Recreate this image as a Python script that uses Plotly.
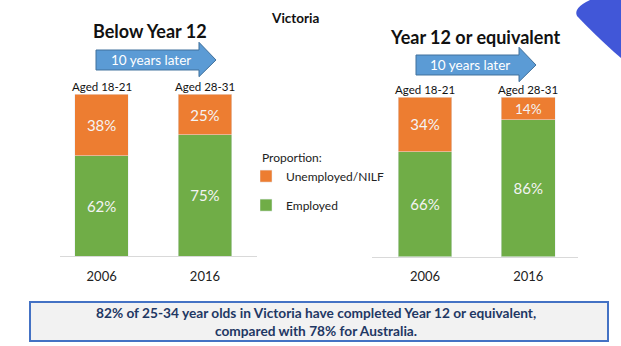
import plotly.graph_objects as go

W, H = 621, 346

years = ["2006", "2016"]
age_labels = ["Aged 18-21", "Aged 28-31"]
below_employed = [62, 75]
below_unemployed = [38, 25]
y12_employed = [66, 86]
y12_unemployed = [34, 14]

ORANGE = "#ED7D31"
GREEN = "#70AD47"
FONT = "Lato, 'Open Sans', sans-serif"


def px(x):
    return x / W


def py(y):
    return 1 - y / H


fig = go.Figure()

bar_text = dict(texttemplate="%{y}%", textposition="inside", insidetextanchor="middle",
                textfont=dict(color="#F4F4F4", size=15, family=FONT), width=0.52)

# Left panel
fig.add_trace(go.Bar(x=years, y=below_employed, name="Employed", marker_color=GREEN,
                     xaxis="x", yaxis="y", legendgroup="emp", legendrank=2, **bar_text))
fig.add_trace(go.Bar(x=years, y=below_unemployed, name="Unemployed/NILF", marker_color=ORANGE,
                     xaxis="x", yaxis="y", legendgroup="unemp", legendrank=1, **bar_text))
# Right panel
fig.add_trace(go.Bar(x=years, y=y12_employed, name="Employed", marker_color=GREEN,
                     xaxis="x2", yaxis="y2", showlegend=False, legendgroup="emp", **bar_text))
fig.add_trace(go.Bar(x=years, y=y12_unemployed, name="Unemployed/NILF", marker_color=ORANGE,
                     xaxis="x2", yaxis="y2", showlegend=False, legendgroup="unemp", **bar_text))

axis_common = dict(showgrid=False, zeroline=False, showline=True, linecolor="#D9D9D9",
                   linewidth=1, ticks="", ticklabelstandoff=8,
                   tickfont=dict(size=13, color="#222", family=FONT), fixedrange=True)
yaxis_common = dict(showgrid=False, zeroline=False, showline=False, showticklabels=False,
                    range=[0, 100], fixedrange=True)

fig.update_layout(
    width=W, height=H,
    margin=dict(l=0, r=0, t=0, b=0),
    paper_bgcolor="white", plot_bgcolor="white",
    barmode="stack",
    font=dict(family=FONT, color="#222"),
    xaxis=dict(domain=[px(60), px(257)], range=[-0.403, 1.504], anchor="y", **axis_common),
    yaxis=dict(domain=[py(256), py(94.3)], anchor="x", **yaxis_common),
    xaxis2=dict(domain=[px(372), px(578)], range=[-0.513, 1.481], anchor="y2", **axis_common),
    yaxis2=dict(domain=[py(256.7), py(97.3)], anchor="x2", **yaxis_common),
    legend=dict(x=px(260), y=py(146), xanchor="left", yanchor="top",
                traceorder="grouped", tracegroupgap=10, indentation=-14,
                title=dict(text="Proportion:", font=dict(size=12, color="#222")),
                font=dict(size=12, color="#222", family=FONT),
                bgcolor="rgba(0,0,0,0)"),
    showlegend=True,
)

shapes = []


def arrow(x0, x1, xt, yb0, yb1, yh0, yh1):
    ym = (yb0 + yb1) / 2
    pts = [(x0, yb0), (x1, yb0), (x1, yh0), (xt, ym), (x1, yh1), (x1, yb1), (x0, yb1)]
    path = "M " + " L ".join(f"{px(a):.5f},{py(b):.5f}" for a, b in pts) + " Z"
    return dict(type="path", xref="paper", yref="paper", path=path,
                fillcolor="#5B9BD5", line=dict(color="#41719C", width=1))


shapes.append(arrow(96, 199, 216, 50, 70, 42.3, 76.7))
shapes.append(arrow(416, 519, 536, 55, 75, 47.3, 81.7))

# decorative blue corner shape
cpath = (f"M {px(590):.5f},{py(0):.5f} L {px(621):.5f},{py(0):.5f} L {px(621):.5f},{py(58):.5f} "
         f"L {px(614):.5f},{py(52):.5f} "
         f"Q {px(592):.5f},{py(32):.5f} {px(577):.5f},{py(16):.5f} "
         f"Q {px(573):.5f},{py(8):.5f} {px(590):.5f},{py(0):.5f} Z")
shapes.append(dict(type="path", xref="paper", yref="paper", path=cpath,
                   fillcolor="#4157D8", line=dict(width=0)))

# bottom box
shapes.append(dict(type="rect", xref="paper", yref="paper",
                   x0=px(30), x1=px(608), y0=py(341), y1=py(302),
                   fillcolor="#F2F2F2", line=dict(color="#4472C4", width=2)))

fig.update_layout(shapes=shapes)

ann = []


def text(x, y, t, size, bold=False, color="#111", xanchor="center"):
    ann.append(dict(x=px(x), y=py(y), xref="paper", yref="paper", text=f"<b>{t}</b>" if bold else t,
                    showarrow=False, xanchor=xanchor, yanchor="middle",
                    font=dict(size=size, color=color, family=FONT)))


text(295, 18, "Victoria", 13.5, bold=True)
text(150, 31, "Below Year 12", 18, bold=True)
text(475, 37, "Year 12 or equivalent", 18, bold=True)
text(151, 60, "10 years later", 13.5, color="white")
text(470, 65, "10 years later", 13.5, color="white")
text(101.7, 87, age_labels[0], 11.5)
text(205, 87, age_labels[1], 11.5)
text(425, 90, age_labels[0], 11.5)
text(528.3, 90, age_labels[1], 11.5)
text(316, 312, "82% of 25-34 year olds in Victoria have completed Year 12 or equivalent,", 13.7,
     bold=True, color="#1F3864")
text(316, 330, "compared with 78% for Australia.", 13.7, bold=True, color="#1F3864")

fig.update_layout(annotations=ann)

fig.write_html("out.html")
